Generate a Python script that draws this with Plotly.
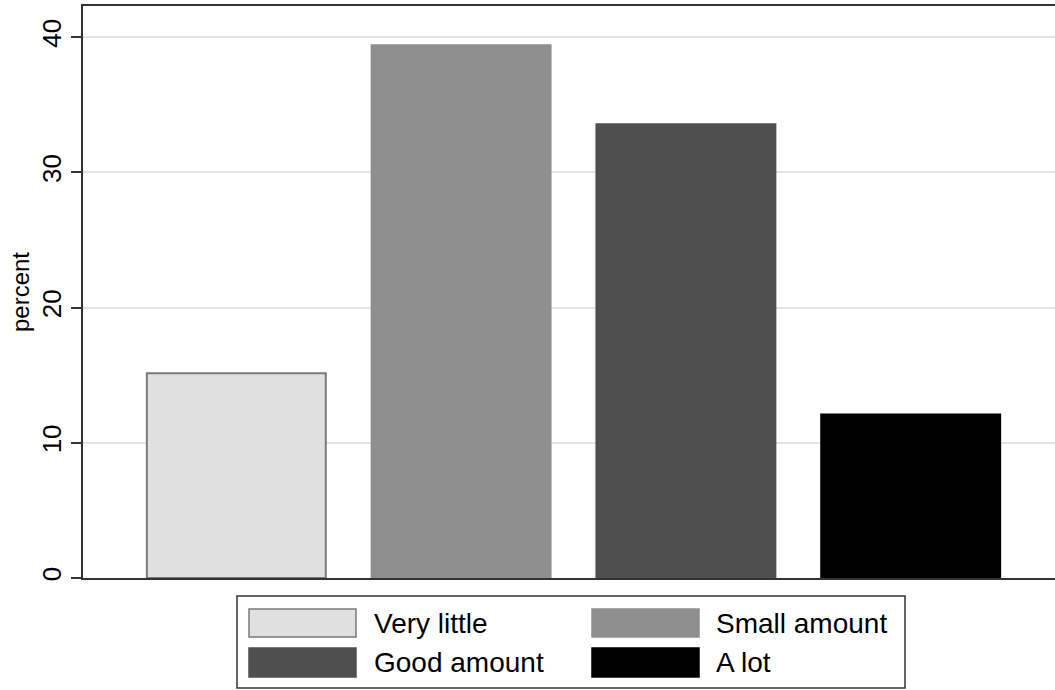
import plotly.graph_objects as go

categories = ["Very little", "Small amount", "Good amount", "A lot"]
percents = [15.15, 39.4, 33.55, 12.1]
fill_colors = ["#e0e0e0", "#8f8f8f", "#4f4f4f", "#000000"]
line_colors = ["#7a7a7a", "#8f8f8f", "#4f4f4f", "#000000"]
y_ticks = [0, 10, 20, 30, 40]

W, H = 1055, 690
L, R, T, B = 83, 0, 6, 112
pw, ph = W - L - R, H - T - B

def px(x):
    return (x - L) / pw

def py(y):
    return (H - B - y) / ph

fig = go.Figure()
for i, (c, v) in enumerate(zip(categories, percents)):
    fig.add_trace(go.Bar(
        x=[i], y=[v], name=c, width=0.796,
        marker=dict(color=fill_colors[i], line=dict(color=line_colors[i], width=2)),
        showlegend=False,
    ))

font = "Liberation Sans, Arial, Helvetica, sans-serif"

# custom legend
shapes = [dict(type="rect", xref="paper", yref="paper",
               x0=px(237), x1=px(905), y0=py(688), y1=py(596),
               line=dict(color="#333333", width=1.5), fillcolor="white")]
annotations = []
sw_x = [(249, 356), (592, 699)]
sw_y = [(609, 637), (648, 677)]
txt_x = [372, 714]
for i, c in enumerate(categories):
    col, row = i % 2, i // 2
    x0, x1 = sw_x[col]
    y0, y1 = sw_y[row]
    shapes.append(dict(type="rect", xref="paper", yref="paper",
                       x0=px(x0), x1=px(x1), y0=py(y1), y1=py(y0),
                       fillcolor=fill_colors[i],
                       line=dict(color=line_colors[i], width=1.5)))
    annotations.append(dict(xref="paper", yref="paper", x=px(txt_x[col]),
                            y=py((y0 + y1) / 2), text=c, showarrow=False,
                            xanchor="left", yanchor="middle",
                            font=dict(family=font, size=28, color="black")))

fig.update_layout(
    width=W, height=H,
    margin=dict(l=L, r=R, t=T, b=B, pad=0),
    paper_bgcolor="white", plot_bgcolor="white",
    barmode="overlay",
    shapes=shapes, annotations=annotations,
    xaxis=dict(range=[-0.682, 3.642], showticklabels=False, showgrid=False,
               zeroline=False, showline=True, linecolor="#333333", linewidth=2,
               mirror=True, ticks=""),
    yaxis=dict(range=[0, 42.3], tickvals=y_ticks, tickangle=-90,
               ticks="outside", ticklen=10, tickwidth=1.5, tickcolor="#333333",
               showline=True, linecolor="#333333", linewidth=2,
               showgrid=True, gridcolor="#e3e3e3", gridwidth=2, zeroline=False,
               tickfont=dict(family=font, size=26, color="black"),
               title=dict(text="percent", font=dict(family=font, size=24, color="black"),
                          standoff=0)),
    showlegend=False,
)

fig.write_html("out.html", config={"displayModeBar": False},
               post_script="document.body.style.margin='0';")
